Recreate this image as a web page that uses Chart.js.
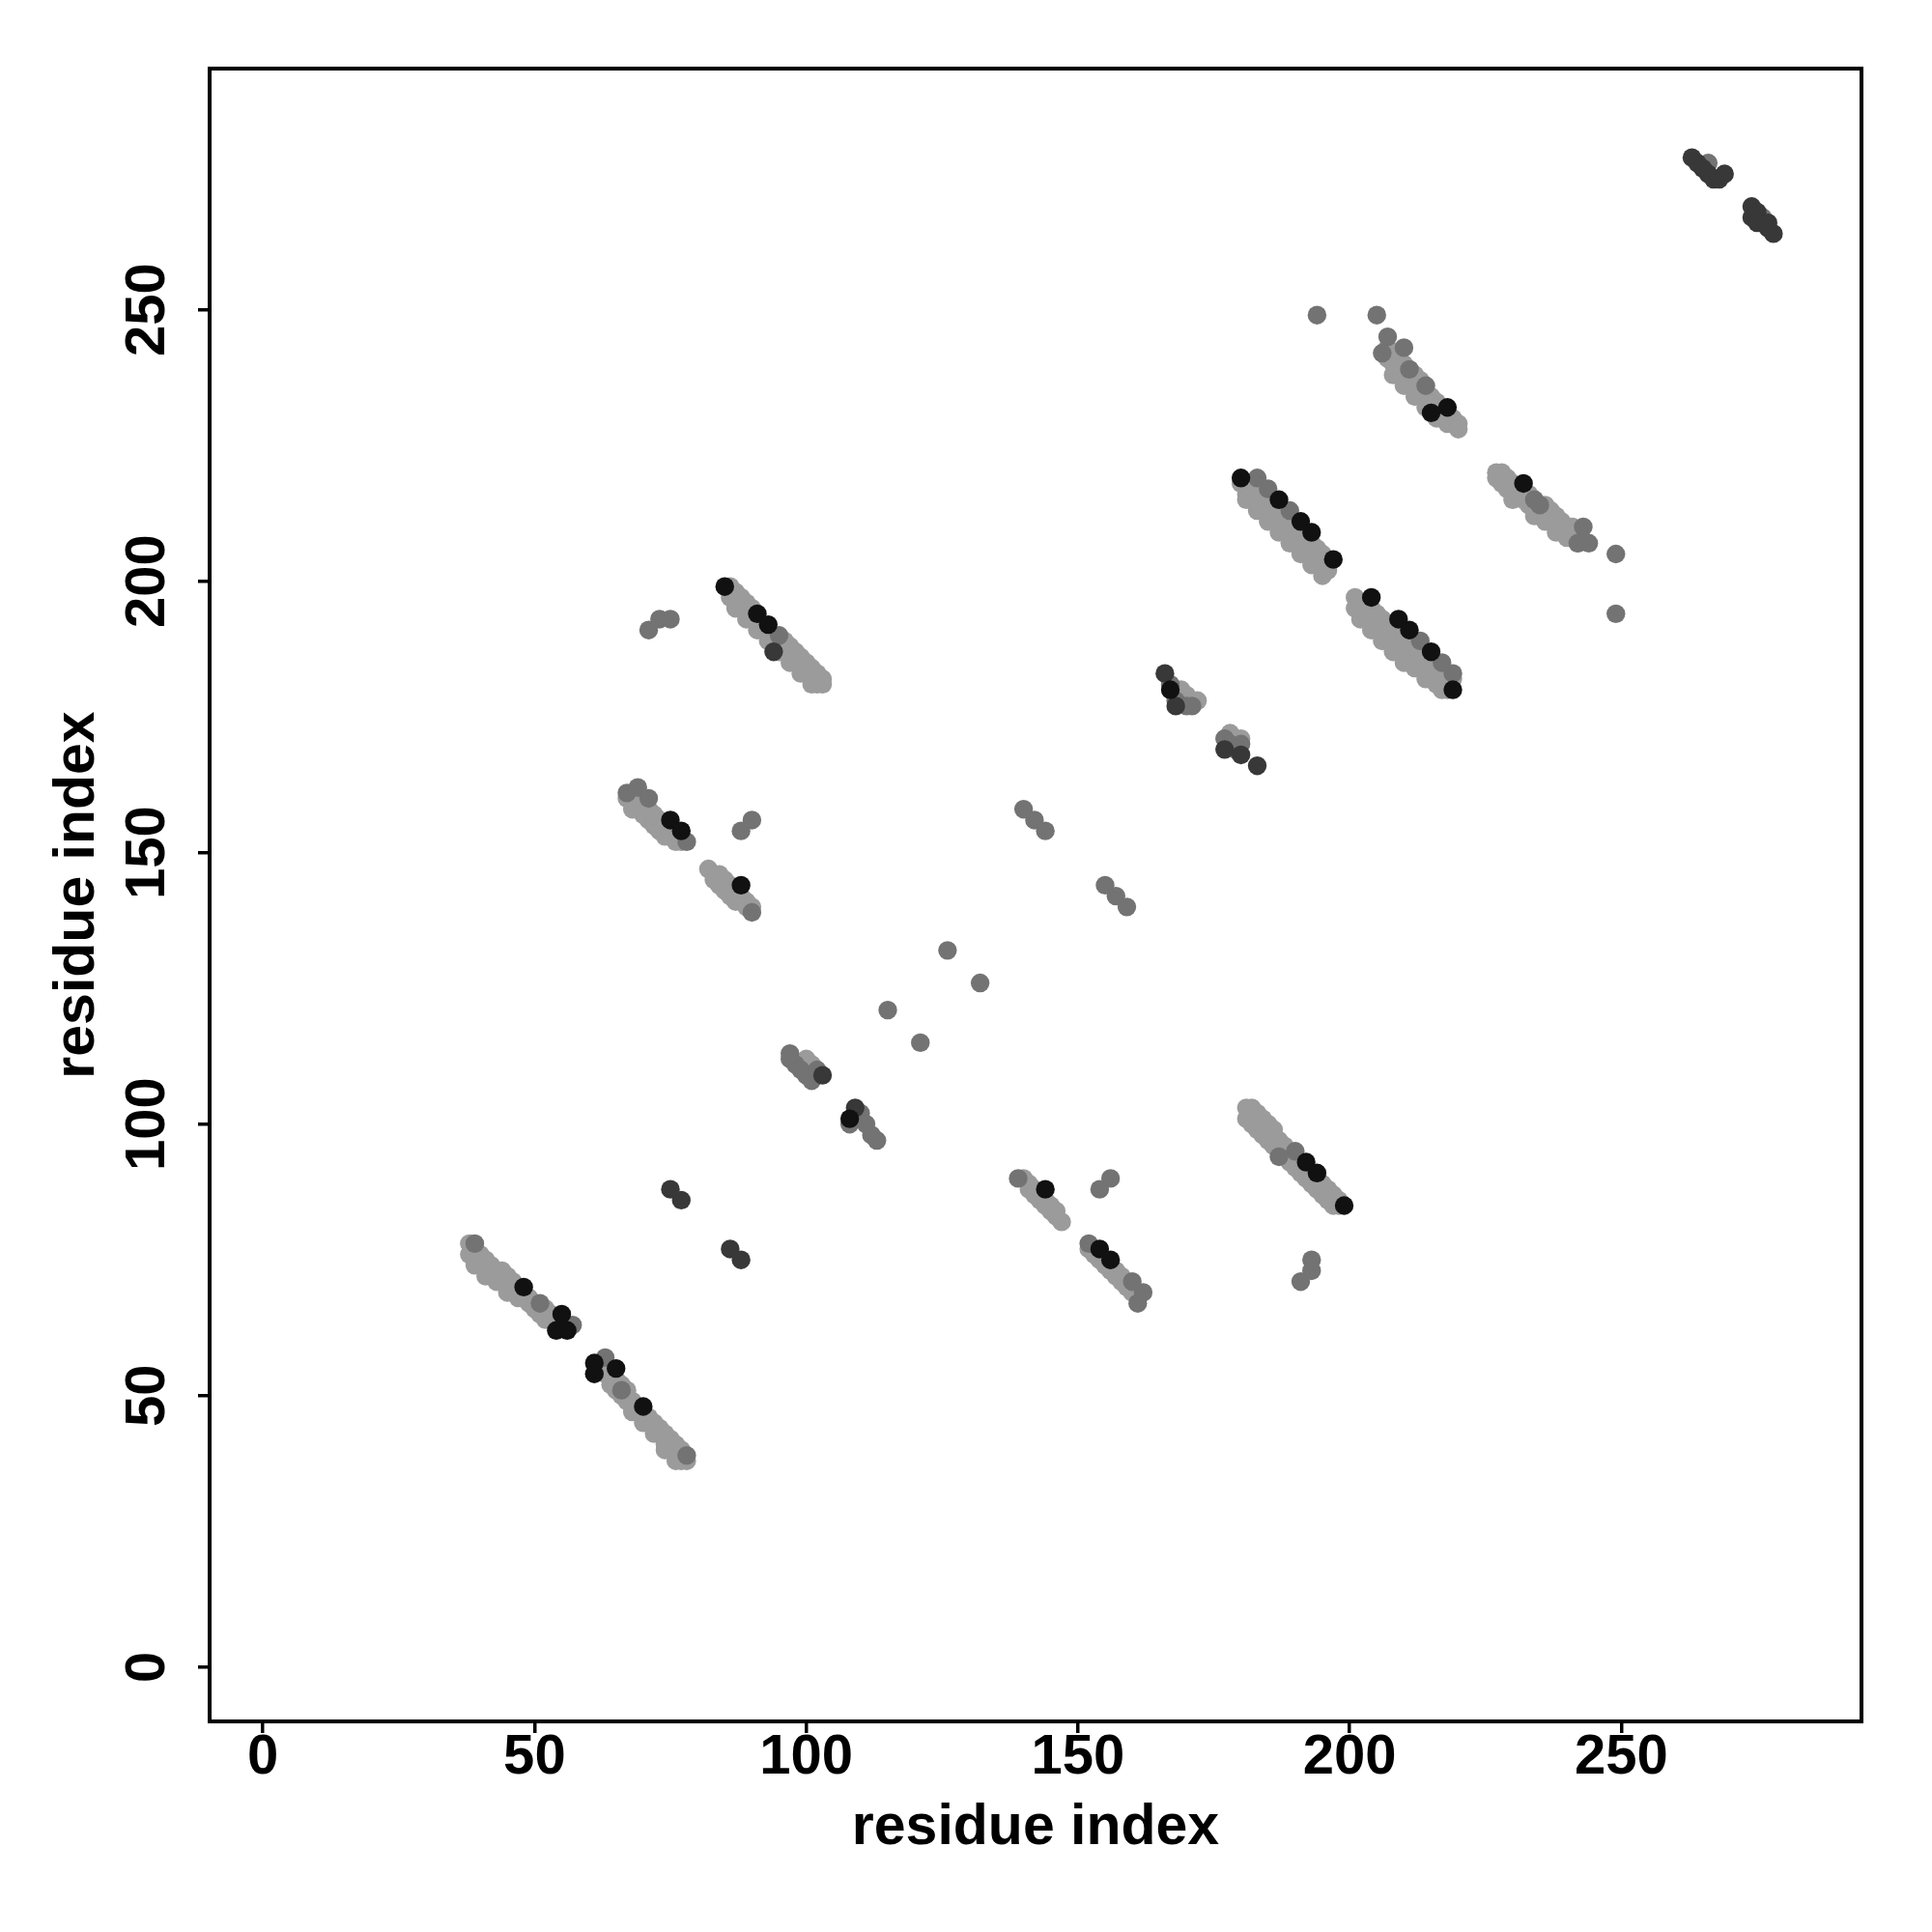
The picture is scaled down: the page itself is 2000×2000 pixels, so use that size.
<!DOCTYPE html>
<html>
<head>
<meta charset="utf-8">
<script src="https://cdn.jsdelivr.net/npm/chart.js@4.4.1/dist/chart.umd.min.js"></script>
<style>
  html, body { margin: 0; padding: 0; background: #ffffff; }
  #wrap { width: 2000px; height: 2000px; }
</style>
</head>
<body>
<div id="wrap"><canvas id="c" width="2000" height="2000"></canvas></div>
<script>
// ---- data (residue index pairs) ----
const xTicks = [0, 50, 100, 150, 200, 250];
const yTicks = [0, 50, 100, 150, 200, 250];
const xTitle = 'residue index';
const yTitle = 'residue index';

const lightPts = [
  [38,78],[38,76],[39,77],[39,75],[40,76],[40,74],[41,75],[41,73],[42,74],[42,73],[43,73],[43,72],[44,73],[44,71],[45,72],[45,70],[46,71],[46,69],[47,70],[47,69],[48,69],[48,68],[49,68],[49,67],[50,67],[50,66],[51,66],[51,65],[52,66],[52,64],[53,65],[53,64],[54,64],[54,63],[55,64],[56,63],
  [39,74],[41,72],[43,71],[45,69],[47,68],
  [62,56],[62,55],[63,55],[63,54],[64,54],[64,52],[65,53],[65,51],[66,52],[66,50],[67,51],[67,49],[68,49],[68,48],[69,48],[69,47],[70,47],[70,46],[71,46],[71,45],[72,45],[72,44],[73,44],[73,43],[74,43],[74,41],[75,42],[75,40],[76,41],[76,39],[77,40],[77,38],[78,38],
  [68,47],[70,45],[72,43],[74,40],[76,38],
  [67,160],[68,160],[68,158],[69,159],[69,158],[70,159],[70,157],[71,158],[71,156],[72,157],[72,155],[73,156],[73,154],[74,155],[74,153],[75,154],[75,153],[76,153],[76,152],[77,152],
  [82,147],[83,146],[83,145],[84,146],[84,144],[85,145],[85,143],[86,144],[86,142],[87,143],[87,141],[88,142],[88,141],[89,141],[89,140],[90,140],
  [86,199],[86,197],[87,198],[87,196],[88,197],[88,195],[89,196],[89,194],[90,195],[90,193],[91,193],[92,192],[92,191],[93,190],[94,190],[94,189],[95,189],[95,188],[96,189],[96,187],[97,188],[97,186],[98,187],[98,185],[99,186],[99,184],[100,185],[100,183],[101,184],[101,182],[102,183],[102,181],[103,182],[103,181],
  [87,195],[89,193],[91,191],[93,189],[95,187],[97,185],[99,183],[101,181],
  [100,112],[101,111],
  [140,90],[141,89],[141,88],[142,88],[142,87],[143,86],[144,86],[144,85],[145,85],[145,84],[146,84],[146,83],[147,82],
  [152,77],[153,77],[153,76],[154,76],[154,75],[155,75],[155,74],[156,74],[156,73],[157,73],[157,72],[158,72],[158,71],[159,71],[159,70],[160,70],[160,69],[161,69],[161,68],
  [169,180],[170,179],[172,178],[178,172],[179,171],[180,171],
  [180,218],[181,218],[181,216],[182,217],[182,215],[183,216],[183,214],[184,216],[184,213],[185,215],[185,212],[186,214],[186,211],[187,213],[187,210],[188,212],[188,209],[189,211],[189,208],[190,210],[190,207],[191,209],[191,206],[192,208],[192,205],[193,207],[193,204],[194,206],[194,203],[195,205],[195,202],[196,204],[196,202],
  [181,215],[183,213],[185,211],[187,209],[189,207],[191,205],[193,203],[195,201],
  [181,103],[181,101],[182,102],[182,100],[183,101],[183,99],[184,100],[184,98],[185,99],[185,97],[186,98],[186,96],[187,97],[187,95],[188,96],[188,94],[189,95],[189,93],[190,94],[190,92],[191,93],[191,91],[192,92],[192,90],[193,91],[193,89],[194,90],[194,88],[195,89],[195,87],[196,88],[196,86],[197,87],[197,85],[198,86],[198,85],
  [182,103],[183,102],[184,101],[185,100],[186,99],
  [201,197],[201,195],[202,196],[202,194],[203,195],[203,193],[204,195],[204,192],[205,194],[205,191],[206,193],[206,190],[207,192],[207,189],[208,191],[208,188],[209,190],[209,187],[210,189],[210,186],[211,188],[211,186],[212,187],[212,185],[213,186],[213,184],[214,185],[214,183],[215,184],[215,182],[216,183],[216,181],[217,182],[217,180],[218,181],[218,180],[219,182],
  [202,193],[204,191],[206,189],[208,187],[210,185],[212,184],[214,182],
  [207,243],[207,241],[208,242],[208,240],[209,241],[209,239],[210,240],[210,238],[211,239],[211,237],[212,238],[212,236],[213,237],[213,235],[214,236],[214,234],[215,234],[215,233],[216,233],[216,232],[217,232],[217,230],[218,231],[218,229],[219,230],[219,229],[220,229],[220,228],
  [208,238],[210,236],[212,234],[214,232],[216,230],
  [227,220],[227,219],[228,220],[228,218],[229,219],[229,217],[230,218],[230,216],[231,217],[231,216],[232,217],[232,215],[233,216],[233,214],[234,215],[234,213],[235,214],[235,212],[236,214],[236,212],[237,213],[237,211],[238,212],[238,210],[239,211],[239,209],[240,210],[240,209],[241,210],[241,208],[242,209],[242,207],
  [230,215],[234,212],[236,211],[238,209],[240,208]
];

const midPts = [
  [39,78],[51,67],[57,63],[63,57],[66,51],[78,39],
  [67,161],[69,162],[71,160],[78,152],[88,154],[90,156],[90,139],
  [71,191],[73,193],[75,193],[95,190],
  [126,132],[132,126],[115,121],[121,115],
  [97,113],[97,112],[98,111],[99,110],[100,109],[101,108],[102,110],
  [108,100],[110,102],[111,100],[112,98],[113,97],
  [140,158],[142,156],[144,154],[155,144],[157,142],[159,140],
  [139,90],[154,88],[156,90],[152,78],[160,71],[162,69],[161,67],
  [167,181],[168,178],[170,177],[171,177],[177,171],[178,170],[179,169],[180,170],
  [183,219],[185,217],[189,213],
  [190,95],[187,94],[193,75],[193,73],[191,71],
  [213,189],[217,185],[219,183],
  [194,249],[205,249],[207,245],[210,243],[206,242],[211,239],[214,236],
  [234,215],[235,214],[243,210],[244,207],[242,207],[249,205],[249,194],
  [266,277],[276,267]
];

const darkPts = [
  [75,88],[77,86],[86,77],[88,75],[94,187],[103,109],[109,103],
  [166,183],[168,177],[177,169],[180,168],[183,166],
  [263,278],[264,277],[265,276],[266,275],[267,274],[268,274],[269,275],
  [274,269],[275,268],[274,267],[275,266],[277,266],[277,265],[278,264]
];

const blackPts = [
  [48,70],[55,65],[54,62],[56,62],[61,56],[61,54],[65,55],[70,48],
  [75,156],[77,154],[88,144],[85,199],[91,194],[93,192],[108,101],
  [144,88],[154,77],[156,75],[167,180],
  [180,219],[187,215],[191,211],[193,209],[197,204],
  [192,93],[194,91],[199,85],
  [204,197],[209,193],[211,191],[215,187],[219,180],
  [218,232],[215,231],[232,218]
];

const seriesColors = { light: '#9b9b9b', mid: '#737373', dark: '#383838', black: '#111111' };

function toXY(pts) { return pts.map(p => ({ x: p[0], y: p[1] })); }
function ds(pts, color, order) {
  return {
    data: toXY(pts),
    backgroundColor: color,
    borderColor: color,
    borderWidth: 0,
    pointRadius: 9.7,
    pointHoverRadius: 9.7,
    pointStyle: 'circle',
    order: order
  };
}

const frame = {
  id: 'frame',
  afterDraw(chart) {
    const a = chart.chartArea, ctx = chart.ctx;
    ctx.save();
    ctx.strokeStyle = '#000';
    ctx.lineWidth = 4;
    ctx.strokeRect(a.left, a.top, a.right - a.left, a.bottom - a.top);
    ctx.restore();
  }
};

const tickFont = { family: '"Liberation Sans", Arial, Helvetica, sans-serif', size: 58, weight: 'bold', lineHeight: 0.9 };
const titleFont = { family: '"Liberation Sans", Arial, Helvetica, sans-serif', size: 59, weight: 'bold', lineHeight: 1.2 };

new Chart(document.getElementById('c'), {
  type: 'scatter',
  data: {
    datasets: [
      ds(lightPts, seriesColors.light, 3),
      ds(midPts, seriesColors.mid, 2),
      ds(darkPts, seriesColors.dark, 1),
      ds(blackPts, seriesColors.black, 0)
    ]
  },
  plugins: [frame],
  options: {
    responsive: false,
    animation: false,
    devicePixelRatio: 1,
    layout: { padding: { left: 0, top: 71, right: 73, bottom: 0 } },
    plugins: { legend: { display: false }, tooltip: { enabled: false } },
    scales: {
      x: {
        type: 'linear',
        min: -9.8, max: 294.2,
        afterBuildTicks: s => { s.ticks = xTicks.map(v => ({ value: v })); },
        afterFit: s => { s.height = 218; },
        border: { display: false },
        grid: { drawOnChartArea: false, drawTicks: true, tickLength: 12, color: '#000', lineWidth: 3.5 },
        ticks: { color: '#000', font: tickFont, padding: 0, maxRotation: 0, minRotation: 0, autoSkip: false },
        title: { display: true, text: xTitle, color: '#000', font: titleFont, padding: { top: 0, bottom: 72 } }
      },
      y: {
        type: 'linear',
        min: -10, max: 294.4,
        afterBuildTicks: s => { s.ticks = yTicks.map(v => ({ value: v })); },
        afterFit: s => { s.width = 217; },
        border: { display: false },
        grid: { drawOnChartArea: false, drawTicks: true, tickLength: 12, color: '#000', lineWidth: 3.5 },
        ticks: { color: '#000', font: tickFont, padding: 2.6, minRotation: 90, maxRotation: 90, crossAlign: 'center', autoSkip: false },
        title: { display: true, text: yTitle, color: '#000', font: titleFont, padding: { top: 45, bottom: 0 } }
      }
    }
  }
});
</script>
</body>
</html>
